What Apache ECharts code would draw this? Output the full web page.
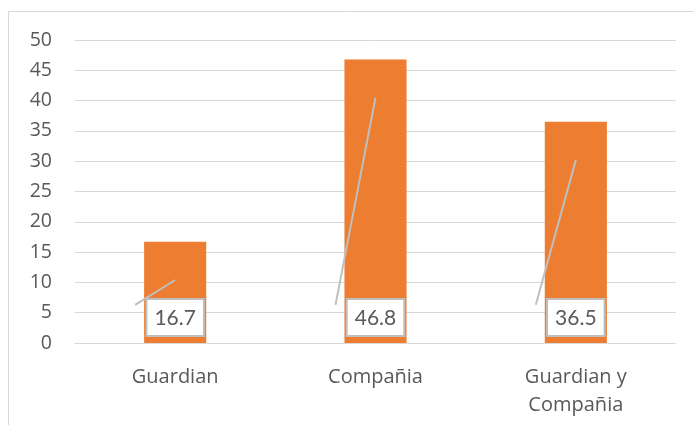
<!DOCTYPE html>
<html><head><meta charset="utf-8">
<script src="https://cdn.jsdelivr.net/npm/echarts@6/dist/echarts.min.js"></script>
<style>html,body{margin:0;padding:0;background:#fff}#c{width:694px;height:425px}</style>
</head><body><div id="c"></div>
<script>
const categories = ['Guardian', 'Compañia', 'Guardian y\nCompañia'];
const values = [16.7, 46.8, 36.5];
const yTicks = {min: 0, max: 50, interval: 5};

const FONT = '"Open Sans", Lato, sans-serif';
const LFONT = 'Lato, "Open Sans", sans-serif';
const chart = echarts.init(document.getElementById('c'), null, {renderer: 'canvas'});
const LEAD_DROP = 6.3; // leader line top sits this far below bar top (value units)
const LEAD_LOW = 6.3;  // leader line bottom at this value
chart.setOption({
  animation: false,
  graphic: [{type: 'rect', shape: {x: 8.5, y: 11.5, width: 720, height: 500}, style: {fill: 'none', stroke: '#d9d9d9', lineWidth: 1}, z: 0}],
  grid: {left: 75, right: 18, top: 40, bottom: 82, containLabel: false},
  xAxis: {
    type: 'category', data: categories,
    axisLine: {lineStyle: {color: '#d9d9d9', width: 1}},
    axisTick: {show: false},
    axisLabel: {color: '#595959', fontSize: 20, fontFamily: FONT, margin: 20, lineHeight: 28}
  },
  yAxis: {
    type: 'value', min: yTicks.min, max: yTicks.max, interval: yTicks.interval,
    axisLine: {show: false}, axisTick: {show: false},
    axisLabel: {color: '#595959', fontSize: 19.5, fontFamily: FONT, margin: 23},
    splitLine: {lineStyle: {color: '#d9d9d9', width: 1}}
  },
  series: [
    {type: 'bar', data: values, barWidth: '31%', itemStyle: {color: '#ED7D31'}, z: 2, silent: true},
    {type: 'custom', z: 3, data: values.map((v, i) => [i, v]),
      renderItem: function (params, api) {
        const i = api.value(0), v = api.value(1);
        const top = api.coord([i, v - LEAD_DROP]);
        const low = api.coord([i, LEAD_LOW]);
        return {type: 'line', shape: {x1: low[0] - 40, y1: low[1], x2: top[0], y2: top[1]},
          style: {stroke: '#bfbfbf', lineWidth: 2}};
      }},
    {type: 'bar', data: values, barWidth: '31%', barGap: '-100%', z: 4, itemStyle: {color: 'rgba(0,0,0,0)'},
      label: {show: true, position: 'insideBottom', distance: 8, color: '#595959', fontSize: 21, fontFamily: LFONT,
        backgroundColor: '#fff', borderColor: '#bfbfbf', borderWidth: 2, padding: [8, 7, 6, 7], formatter: '{c}'}}
  ]
});
</script></body></html>
